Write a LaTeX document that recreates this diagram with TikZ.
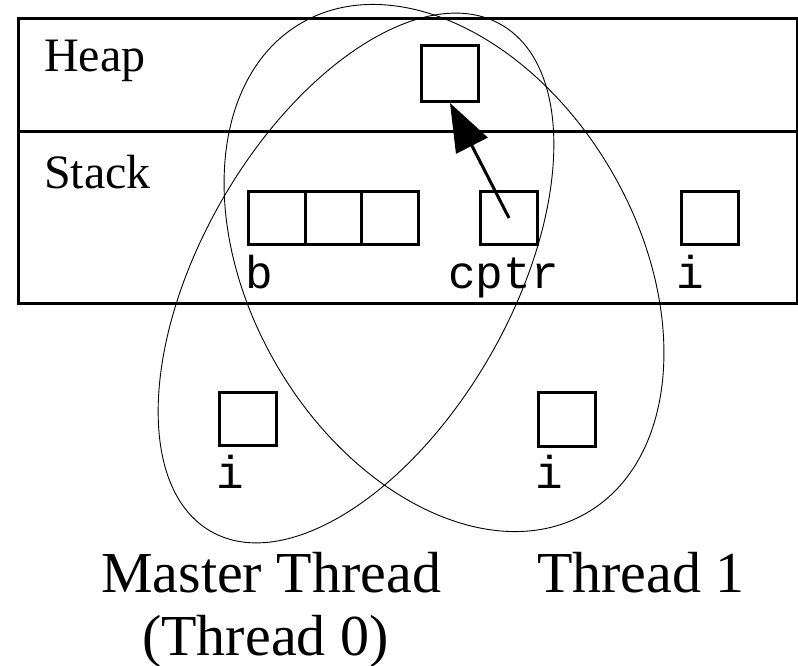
\documentclass[tikz,border=0pt]{standalone}
\usepackage{fontspec}
\setmainfont{Liberation Serif}
\newfontfamily\codefont{Liberation Mono}
\usetikzlibrary{arrows.meta}
\begin{document}
\begin{tikzpicture}[x=1pt,y=-1pt,
  region/.style={draw, line width=3pt, minimum width=779pt, inner sep=0pt, anchor=north west},
  cell/.style={draw, line width=3pt, minimum width=57pt, minimum height=53pt, inner sep=0pt, anchor=north west},
  codelbl/.style={font=\codefont\fontsize{46}{46}\selectfont, inner sep=0pt, anchor=base west},
  seglbl/.style={font=\fontsize{48}{48}\selectfont, inner sep=0pt, anchor=base west},
  thrlbl/.style={font=\fontsize{58}{58}\selectfont, inner sep=0pt, anchor=base west},
  thread/.style={draw, line width=0.9pt},
  ptr/.style={line width=3pt, -{Triangle[length=48pt,width=35pt]}}]
\useasboundingbox (0,0) rectangle (798,666);
% memory regions
\node[region, minimum height=113pt] (heapreg) at (17,17) {};
\node[region, minimum height=172pt] (stackreg) at (17,130) {};
\node[seglbl] (heaplbl) at (44,72) {Heap};
\node[seglbl] (stacklbl) at (44,189) {Stack};
% heap cell
\node[cell, minimum height=56pt] (hp) at (420,44) {};
% stack cells
\node[cell] (b1) at (247,190) {};
\node[cell, minimum width=56pt] (b2) at (304,190) {};
\node[cell] (b3) at (360,190) {};
\node[cell] (cptr) at (479,190) {};
\node[cell] (si) at (680,190) {};
\node[codelbl] (blbl) at (245,288) {b};
\node[codelbl] (cptrlbl) at (448,288) {cptr};
\node[codelbl] (silbl) at (676,288) {i};
% private cells
\node[cell] (mi) at (218,391) {};
\node[cell, minimum height=54pt] (ti) at (537,391) {};
\node[codelbl] (milbl) at (216,488) {i};
\node[codelbl] (tilbl) at (535,488) {i};
% pointer
\draw[ptr] (cptr.center) -- (hp.south);
% threads
\draw[thread, rotate around={60.2:(356,278)}] (356,278) ellipse [x radius=292pt, y radius=155pt];
\draw[thread, rotate around={120.3:(444,268)}] (444,268) ellipse [x radius=283.5pt, y radius=193.5pt];
\node[thrlbl] (mlbl) at (101,592) {Master Thread};
\node[thrlbl] (m0lbl) at (142,655) {(Thread 0)};
\node[thrlbl] (tlbl) at (537,592) {Thread 1};
\end{tikzpicture}
\end{document}
